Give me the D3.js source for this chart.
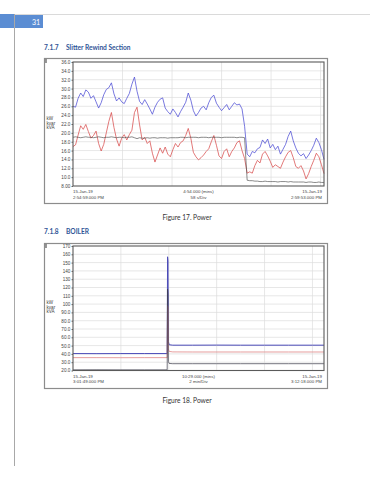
<!DOCTYPE html>
<html>
<head>
<meta charset="utf-8">
<title>Power</title>
<style>
  body { margin: 0; background: #fff; }
  svg { display: block; }
</style>
</head>
<body>
<svg id="page" width="370" height="480"></svg>

<script src="https://d3js.org/d3.v7.min.js"></script>
<script type="text/javascript">

// Figure 17 - slitter rewind, one sample every 3 s
const slitterStep = 3;
const slitterKVA = [
    26.0, 25.8, 27.8, 29.0, 28.2, 29.7, 29.2, 27.8, 28.4, 27.0,
    25.6, 26.8, 28.6, 29.8, 30.2, 31.3, 28.8, 27.2, 27.9, 27.0,
    26.6, 27.8, 28.9, 31.0, 32.6, 29.4, 27.1, 26.4, 27.5, 26.5,
    25.4, 24.2, 25.8, 26.9, 27.6, 27.9, 25.6, 24.8, 24.2, 25.4,
    24.6, 23.6, 24.8, 25.8, 26.9, 29.0, 27.4, 25.0, 23.8, 24.6,
    25.6, 26.0, 25.2, 26.8, 28.0, 28.5, 26.7, 25.8, 25.0, 25.7,
    26.4, 25.2, 26.0, 26.8, 26.3, 26.5, 25.4, 21.5, 15.2, 14.6,
    15.8, 15.5, 16.4, 16.7, 18.4, 17.6, 18.6, 16.6, 17.4, 16.2,
    17.0, 15.2, 16.3, 17.4, 19.2, 20.4, 18.2, 16.6, 15.4, 14.8,
    15.3, 14.2, 15.0, 16.0, 17.2, 18.8, 17.8, 16.2, 14.0
];
const slitterKvar = [
    16.9, 17.3, 19.5, 21.6, 20.8, 21.9, 20.3, 18.8, 19.4, 20.4,
    17.6, 15.9, 17.4, 20.0, 22.6, 24.6, 21.2, 18.6, 17.0, 18.8,
    19.6, 18.4, 19.6, 20.6, 24.6, 25.8, 21.8, 18.4, 19.0, 17.6,
    18.2, 15.4, 13.4, 15.0, 16.6, 15.4, 16.8, 15.2, 14.6, 16.2,
    17.6, 16.8, 17.8, 18.2, 19.4, 21.0, 18.8, 15.6, 14.6, 13.9,
    14.4, 15.0, 15.8, 16.4, 18.0, 19.4, 17.2, 14.8, 14.2, 15.8,
    16.4, 14.6, 15.8, 16.6, 17.8, 18.2, 16.0, 14.2, 10.9, 11.2,
    10.9, 12.6, 13.8, 13.2, 15.2, 15.8, 14.8, 13.6, 12.2, 12.8,
    12.4, 12.0, 13.4, 14.6, 15.6, 16.0, 14.4, 12.4, 12.0, 12.6,
    11.4, 9.6, 10.8, 12.4, 13.8, 15.4, 14.6, 12.8, 10.8
];
const slitterKW = [
    19.0, 19.1, 19.0, 18.9, 19.0, 19.1, 19.0, 19.0, 18.9, 19.0,
    19.1, 19.0, 18.9, 19.0, 19.0, 19.1, 19.0, 18.9, 19.0, 19.0,
    18.9, 19.0, 19.0, 19.1, 18.9, 18.7, 18.9, 18.8, 18.8, 18.9,
    18.8, 18.9, 18.9, 18.8, 18.9, 18.9, 18.9, 18.8, 18.9, 18.9,
    18.9, 18.9, 19.0, 19.0, 18.9, 19.0, 19.0, 19.0, 19.0, 18.9,
    19.0, 19.0, 19.0, 18.9, 19.0, 19.0, 19.0, 19.0, 18.9, 19.0,
    19.0, 19.0, 19.0, 19.0, 18.9, 19.0, 19.0, 18.9, 9.3, 9.2,
    9.2, 9.1, 9.1, 9.0, 9.0, 9.1, 9.0, 9.0, 9.0, 9.0,
    8.9, 9.0, 9.0, 9.0, 8.9, 9.0, 8.9, 8.9, 8.9, 8.9,
    8.9, 8.8, 8.9, 8.9, 8.8, 8.8, 8.9, 8.8, 8.8
];
const slitterYTicks = [36, 34, 32, 30, 28, 26, 24, 22, 20, 18, 16, 14, 12, 10, 8];
const slitterYLabels = ['36.0', '34.0', '32.0', '30.0', '28.0', '26.0', '24.0', '22.0',
    '20.0', '18.0', '16.0', '14.0', '12.0', '10.0', '8.00'];
const slitterXLabels = [
    ['15-Jan-19', '2:54:59.000 PM'],
    ['4:54.000 (mins)', '58 s/Div'],
    ['15-Jan-19', '2:59:53.000 PM']
];

// Figure 18 - boiler, seconds from start
const boilerTimes = [0, 60, 120, 180, 236, 237, 238, 239, 241, 250, 300, 360, 420, 480, 540, 600, 629];
const boilerKVA  = [40.4, 40.3, 40.4, 40.4, 40.4, 157, 152, 55, 51, 50.5, 50.5, 50.6, 50.5, 50.5, 50.5, 50.5, 50.5];
const boilerKvar = [35.5, 35.5, 35.4, 35.5, 35.5, 98, 95, 46, 43, 42.4, 42.3, 42.3, 42.3, 42.3, 42.3, 42.3, 42.3];
const boilerKW   = [20.8, 20.9, 20.8, 20.8, 20.8, 118, 112, 31, 28.5, 28.2, 28.2, 28.2, 28.2, 28.2, 28.2, 28.2, 28.2];
const boilerYTicks = [170, 160, 150, 140, 130, 120, 110, 100, 90, 80, 70, 60, 50, 40, 30, 20];
const boilerYLabels = ['170', '160', '150', '140', '130', '120', '110', '100',
    '90.0', '80.0', '70.0', '60.0', '50.0', '40.0', '30.0', '20.0'];
const boilerXLabels = [
    ['15-Jan-19', '3:01:49.000 PM'],
    ['10:29.000 (mins)', '2 min/Div'],
    ['15-Jan-19', '3:12:18.000 PM']
];

const unitLines = ['kW', 'kvar', 'kVA'];

const svg = d3.select('#page');
const chartFont = 'Liberation Sans, Arial, sans-serif';
const docFont = 'Lato, Open Sans, sans-serif';

// page furniture
svg.append('rect').attr('x', 0).attr('y', 14).attr('width', 43).attr('height', 14).attr('fill', '#5b8dd3');
svg.append('text').attr('x', 40).attr('y', 24.5).attr('text-anchor', 'end')
    .style('font', `7px ${docFont}`).attr('fill', '#fff').text('31');
svg.append('line').attr('x1', 14).attr('x2', 370).attr('y1', 14.5).attr('y2', 14.5).attr('stroke', '#dadada');
svg.append('line').attr('x1', 14.5).attr('x2', 14.5).attr('y1', 14).attr('y2', 466).attr('stroke', '#a8a8a8');

function heading(y, num, title) {
    const t = svg.append('text').attr('y', y).attr('fill', '#2f5597')
        .style('font', `bold 6.6px ${docFont}`);
    t.append('tspan').attr('x', 44).text(num);
    t.append('tspan').attr('x', 66).text(title);
}

function caption(y, label) {
    svg.append('text').attr('x', 187).attr('y', y).attr('text-anchor', 'middle')
        .attr('fill', '#333').style('font', `6.6px ${docFont}`).text(label);
}

function drawChart(o) {
    const g = svg.append('g');
    const x = d3.scaleLinear().domain(o.xDomain).range([o.left, o.right]);
    const y = d3.scaleLinear().domain(o.yDomain).range([o.bottom, o.top]);

    g.append('rect')
        .attr('x', o.frame[0] + 0.5).attr('y', o.frame[1] + 0.5)
        .attr('width', o.frame[2] - o.frame[0]).attr('height', o.frame[3] - o.frame[1])
        .attr('fill', '#fff').attr('stroke', '#8c8c8c').attr('stroke-width', 1.2);
    g.append('line')
        .attr('x1', o.frame[0] + 2).attr('x2', o.frame[0] + 2)
        .attr('y1', o.frame[1] + 1).attr('y2', o.frame[1] + 5)
        .attr('stroke', '#333');

    // grid
    g.append('g').selectAll('line')
        .data(o.yTicks.slice(1, -1))
        .join('line')
            .attr('x1', o.left).attr('x2', o.right)
            .attr('y1', d => y(d)).attr('y2', d => y(d))
            .attr('stroke', '#dcdcdc').attr('stroke-width', 0.7);
    g.append('g').selectAll('line')
        .data(d3.range(o.gridStep, o.xDomain[1], o.gridStep))
        .join('line')
            .attr('x1', d => x(d)).attr('x2', d => x(d))
            .attr('y1', o.top).attr('y2', o.bottom)
            .attr('stroke', '#dcdcdc').attr('stroke-width', 0.7);

    // y axis
    g.append('g')
        .attr('transform', `translate(${o.left},0)`)
        .call(d3.axisLeft(y)
            .tickValues(o.yTicks)
            .tickSize(1.5)
            .tickPadding(1.2)
            .tickFormat((d, i) => o.yLabels[i]))
        .call(a => a.select('.domain').remove())
        .call(a => a.selectAll('line').attr('stroke', '#666'))
        .call(a => a.selectAll('text')
            .attr('fill', '#444')
            .style('font', `4.6px ${chartFont}`));

    // units
    const u = g.append('text').attr('fill', '#444').style('font', `4.6px ${chartFont}`);
    unitLines.forEach((s, i) => {
        u.append('tspan').attr('x', o.frame[0] + 2.5).attr('y', o.unitY + i * 4.6).text(s);
    });

    // series
    const line = d3.line().x(d => x(d[0])).y(d => y(d[1]));
    o.series.forEach(s => {
        g.append('path')
            .datum(d3.zip(s.t, s.v))
            .attr('d', line)
            .attr('fill', 'none')
            .attr('stroke', s.color)
            .attr('stroke-width', s.width)
            .attr('stroke-linejoin', 'round');
    });

    // plot border
    g.append('rect')
        .attr('x', o.left).attr('y', o.top)
        .attr('width', o.right - o.left).attr('height', o.bottom - o.top)
        .attr('fill', 'none').attr('stroke', '#5a5a5a').attr('stroke-width', 1.1);

    // time labels
    const anchors = ['start', 'middle', 'end'];
    const xs = [o.left, (o.left + o.right) / 2, o.right - 2];
    o.xLabels.forEach((pair, i) => {
        pair.forEach((s, j) => {
            g.append('text')
                .attr('x', xs[i]).attr('y', o.bottom + 7 + j * 5.6)
                .attr('text-anchor', anchors[i])
                .attr('fill', '#444')
                .style('font', `4.4px ${chartFont}`)
                .text(s);
        });
    });
}

heading(50, '7.1.7', 'Slitter Rewind Section');

const slitterTimes = slitterKVA.map((d, i) => i * slitterStep);
drawChart({
    frame: [44, 58, 327, 203],
    left: 73, right: 324, top: 62, bottom: 186,
    xDomain: [0, 294], gridStep: 58,
    yDomain: [8, 36], yTicks: slitterYTicks, yLabels: slitterYLabels,
    unitY: 120,
    xLabels: slitterXLabels,
    series: [
        { t: slitterTimes, v: slitterKVA, color: '#4c4cd4', width: 0.75 },
        { t: slitterTimes, v: slitterKvar, color: '#d84c4c', width: 0.75 },
        { t: slitterTimes, v: slitterKW, color: '#4a4a4a', width: 0.65 }
    ]
});

caption(220, 'Figure 17. Power');

heading(234, '7.1.8', 'BOILER');

drawChart({
    frame: [44, 243, 327, 388],
    left: 73, right: 324, top: 246, bottom: 370.5,
    xDomain: [0, 629], gridStep: 120,
    yDomain: [20, 170], yTicks: boilerYTicks, yLabels: boilerYLabels,
    unitY: 304,
    xLabels: boilerXLabels,
    series: [
        { t: boilerTimes, v: boilerKVA, color: '#4a4ab8', width: 1 },
        { t: boilerTimes, v: boilerKvar, color: '#e08484', width: 0.8 },
        { t: boilerTimes, v: boilerKW, color: '#3a3a48', width: 0.7 }
    ]
});

caption(403, 'Figure 18. Power');

</script>
</body>
</html>
